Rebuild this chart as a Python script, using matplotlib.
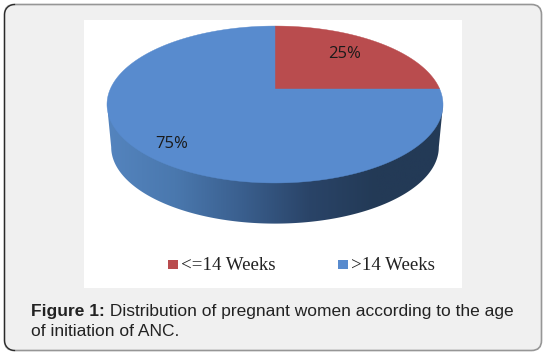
import numpy as np
import matplotlib
matplotlib.use("Agg")
from matplotlib import pyplot as plt
from matplotlib.colors import LinearSegmentedColormap
from matplotlib.patches import FancyBboxPatch, Polygon, Rectangle

categories = ["<=14 Weeks", ">14 Weeks"]
shares = [25, 75]
colors = ["#b94c4e", "#588bce"]
caption_bold = "Figure 1:"
caption_line1 = " Distribution of pregnant women according to the age"
caption_line2 = "of initiation of ANC."

# pie is a circle seen in perspective, far side at the top
cx, cy = 275, 89
width_scale, height_scale, k = 164.7, 75.4, 0.1975
depth = 43


def project(theta, scale=1.0, shift=0):
    u, v = np.cos(theta), np.sin(theta)
    w = 1 + k * v
    return cx + scale * width_scale * u / w, cy - scale * height_scale * v / w + shift


fig = plt.figure(figsize=(5.55, 3.59), dpi=100)
ax = fig.add_axes([0, 0, 1, 1])
ax.set_xlim(0, 555)
ax.set_ylim(359, 0)
ax.axis("off")

# card and white chart panel
card = FancyBboxPatch((14.5, 14.5), 517, 326, boxstyle="round,pad=10,rounding_size=10", fc="#f0f0f0", ec="#969696", lw=1.2)
ax.add_patch(card)
# darker left edge of the card, with its two corners
corner = np.linspace(0, np.pi / 2, 20)
edge_x = np.r_[14.5 - 10 * np.sin(corner), 14.5 - 10 * np.cos(corner)]
edge_y = np.r_[14.5 - 10 * np.cos(corner), 340.5 + 10 * np.sin(corner)]
ax.plot(edge_x, edge_y, color="#2a2a2a", lw=0.9)
ax.add_patch(Rectangle((84, 20), 378, 268, fc="white", ec="none"))

# side of the pie, from one outer point of the ellipse round the near side to the other
t_top = np.linspace(np.pi + np.arcsin(k), 2 * np.pi - np.arcsin(k), 200)
top_x, top_y = project(t_top)
low_x, low_y = project(t_top, 0.975, depth)
side_pts = np.column_stack([np.r_[top_x[0], low_x, top_x[-1]], np.r_[top_y[0], low_y, top_y[-1]]])
side = Polygon(side_pts, closed=True, fc="none", ec="none")
ax.add_patch(side)
grad = LinearSegmentedColormap.from_list("side", ["#5484be", "#4a78ae", "#3a5f8e", "#2a4468", "#233a56", "#233a56"])
im = ax.imshow(np.linspace(0, 1, 256)[None, :], cmap=grad, extent=[108, 443, 240, 80], aspect="auto", zorder=2)
im.set_clip_path(side)
ax.set_xlim(0, 555)
ax.set_ylim(359, 0)

# top of the pie, clockwise from 12 o'clock
start = 0
for share, color in zip(shares, colors):
    a0 = np.pi / 2 - start / 100 * 2 * np.pi
    a1 = np.pi / 2 - (start + share) / 100 * 2 * np.pi
    x, y = project(np.linspace(a0, a1, 200))
    ax.add_patch(Polygon(np.column_stack([np.r_[cx, x], np.r_[cy, y]]), closed=True, fc=color, ec=color, lw=0.3, zorder=3))
    start += share

label_pos = [(345, 54.5), (172, 144.5)]
for share, (lx, ly) in zip(shares, label_pos):
    ax.text(lx, ly, f"{share}%", ha="center", va="center", fontsize=12, family="Open Sans", color="#1a1a1a", zorder=4)

# legend
legend_x = [168, 338]
for name, color, lx in zip(categories, colors, legend_x):
    ax.add_patch(Rectangle((lx, 259.5), 9.5, 9.5, fc=color, ec="none"))
    ax.text(lx + 13, 265, name, ha="left", va="center", fontsize=13.6, family="Liberation Serif", color="#222222")

# caption
bold = ax.text(31, 316, caption_bold, fontsize=12.5, family="Liberation Sans", weight="bold", color="#222222")
fig.canvas.draw()
end = bold.get_window_extent().x1
ax.text(end, 316, caption_line1, fontsize=12.5, family="Liberation Sans", color="#222222")
ax.text(31, 336, caption_line2, fontsize=12.5, family="Liberation Sans", color="#222222")

fig.savefig("out.png", dpi=100)
